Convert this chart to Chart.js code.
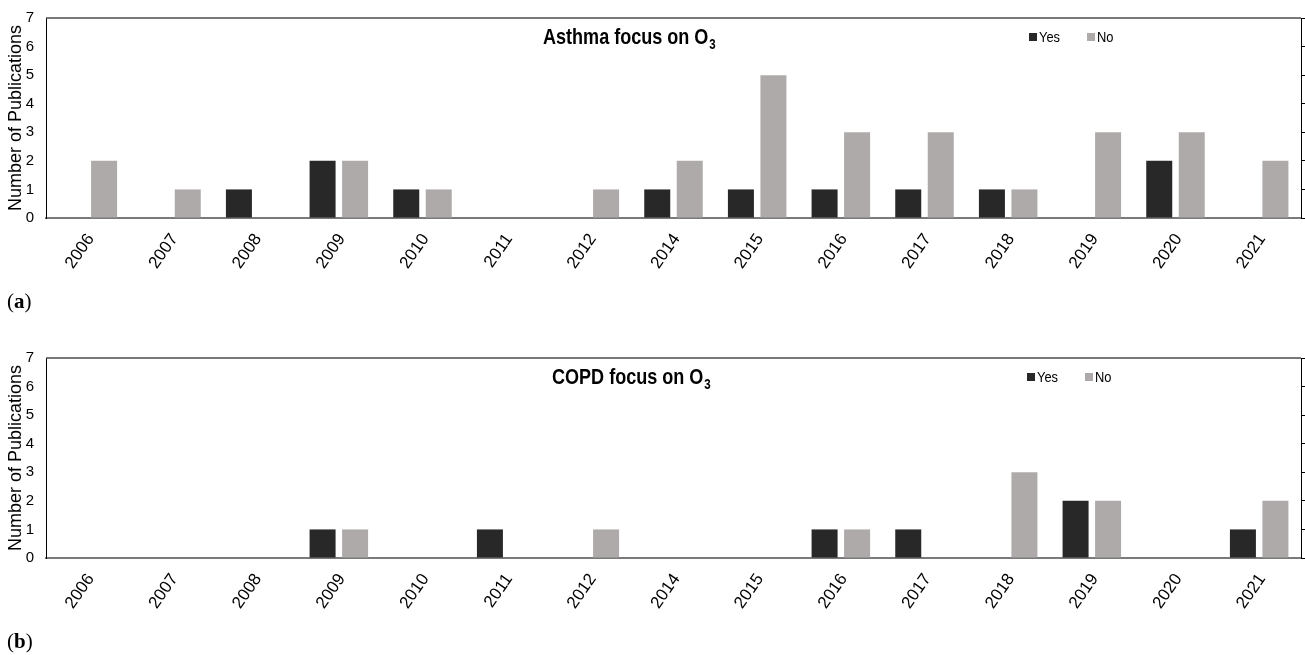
<!DOCTYPE html>
<html>
<head>
<meta charset="utf-8">
<script src="https://cdn.jsdelivr.net/npm/chart.js@4.4.1/dist/chart.umd.min.js"></script>
<style>
  html, body { margin: 0; padding: 0; background: #fff; }
  #wrap { position: relative; width: 1305px; height: 655px; overflow: hidden; background: #fff; }
  #wrap canvas { position: absolute; left: 0; }
  .panel { position: absolute; left: 7px; font-family: "Liberation Serif", "DejaVu Serif", serif; font-size: 21px; color: #000; line-height: 24px; }
</style>
</head>
<body>
<div id="wrap">
  <canvas id="chartA" width="1305" height="300" style="top:0"></canvas>
  <canvas id="chartB" width="1305" height="300" style="top:340px"></canvas>
  <div class="panel" style="top:289px">(<b>a</b>)</div>
  <div class="panel" style="top:629px">(<b>b</b>)</div>
</div>
<script>
// Publication years (no 2013 entry)
const years = ['2006', '2007', '2008', '2009', '2010', '2011', '2012', '2014', '2015', '2016', '2017', '2018', '2019', '2020', '2021'];

// Asthma studies: focus on O3 (Yes) vs not (No)
const asthmaYes = [0, 0, 1, 2, 1, 0, 0, 1, 1, 1, 1, 1, 0, 2, 0];
const asthmaNo  = [2, 1, 0, 2, 1, 0, 1, 2, 5, 3, 3, 1, 3, 3, 2];

// COPD studies: focus on O3 (Yes) vs not (No)
const copdYes = [0, 0, 0, 1, 0, 1, 0, 0, 0, 1, 1, 0, 2, 0, 1];
const copdNo  = [0, 0, 0, 1, 0, 0, 1, 0, 0, 1, 0, 3, 2, 0, 2];

const seriesNames = ['Yes', 'No'];
const yAxisMin = 0;
const yAxisMax = 7;
const yAxisTitle = 'Number of Publications';

const COLOR_YES = '#282828';
const COLOR_NO = '#aeaaaa';
const SANS = '"Liberation Sans", Arial, sans-serif';

// In-plot title with a subscript and a compact legend, drawn on the canvas
const panelDecor = {
  id: 'panelDecor',
  afterDraw(chart, args, opts) {
    const ctx = chart.ctx;
    const area = chart.chartArea;
    ctx.save();

    // top frame line
    ctx.strokeStyle = '#4d4d4d';
    ctx.lineWidth = 1.5;
    ctx.beginPath();
    ctx.moveTo(area.left, area.top);
    ctx.lineTo(area.right, area.top);
    ctx.stroke();

    // title: main text plus subscript, slightly condensed
    ctx.fillStyle = '#000';
    ctx.textBaseline = 'alphabetic';
    ctx.textAlign = 'left';
    ctx.save();
    ctx.translate(opts.titleX, opts.titleY);
    ctx.scale(0.82, 1);
    ctx.font = 'bold 22px ' + SANS;
    ctx.fillText(opts.title, 0, 0);
    const w = ctx.measureText(opts.title).width;
    ctx.font = 'bold 14px ' + SANS;
    ctx.fillText(opts.sub, w + 1, 5);
    ctx.restore();

    // legend
    const ds = chart.data.datasets;
    let x = opts.legendX;
    const y = opts.legendY;
    ds.forEach((d) => {
      ctx.fillStyle = d.backgroundColor;
      ctx.fillRect(x, y - 9, 8, 8);
      ctx.save();
      ctx.translate(x + 10, y);
      ctx.scale(0.86, 1);
      ctx.fillStyle = '#000';
      ctx.font = '15px ' + SANS;
      ctx.fillText(d.label, 0, 0);
      ctx.restore();
      x += opts.legendStep;
    });
    ctx.restore();
  }
};

function buildChart(canvasId, yesValues, noValues, title, titleX, legendX) {
  return new Chart(document.getElementById(canvasId), {
    type: 'bar',
    data: {
      labels: years,
      datasets: [
        { label: seriesNames[0], data: yesValues, backgroundColor: COLOR_YES, borderWidth: 0 },
        { label: seriesNames[1], data: noValues, backgroundColor: COLOR_NO, borderWidth: 0 }
      ]
    },
    options: {
      responsive: false,
      animation: false,
      devicePixelRatio: 1,
      categoryPercentage: 0.777,
      barPercentage: 0.8,
      layout: { padding: { top: 18, left: 0, right: 0, bottom: 0 } },
      plugins: {
        legend: { display: false },
        tooltip: { enabled: false },
        title: { display: false },
        panelDecor: {
          title: title, sub: '3', titleX: titleX, titleY: 44,
          legendX: legendX, legendY: 42, legendStep: 58
        }
      },
      scales: {
        x: {
          grid: { display: false, drawTicks: false },
          border: { display: true, color: '#7a7a7a', width: 2 },
          ticks: {
            autoSkip: false, minRotation: 55, maxRotation: 55, padding: 12, labelOffset: 3,
            color: '#000', font: { family: SANS, size: 17 }
          },
          afterFit(scale) { scale.height = 82; }
        },
        y: {
          min: yAxisMin, max: yAxisMax,
          // invisible tick marks keep the labels clear of the axis line
          grid: { display: true, drawOnChartArea: false, drawTicks: true, tickLength: 9, color: 'rgba(0,0,0,0)' },
          border: { display: true, color: '#000', width: 1 },
          ticks: {
            stepSize: 1, padding: 3, color: '#000',
            font: { family: SANS, size: 15 }
          },
          title: {
            display: true, text: yAxisTitle, color: '#000',
            font: { family: SANS, size: 18 }, padding: { top: 5, bottom: 0 }
          },
          afterFit(scale) { scale.width = 46; }
        },
        y2: {
          position: 'right',
          min: yAxisMin, max: yAxisMax,
          grid: { display: true, drawOnChartArea: false, drawTicks: true, tickLength: 4, color: '#000' },
          border: { display: true, color: '#000', width: 1 },
          ticks: { stepSize: 1, display: false },
          afterFit(scale) { scale.width = 4; }
        }
      }
    },
    plugins: [panelDecor]
  });
}

buildChart('chartA', asthmaYes, asthmaNo, 'Asthma focus on O', 543, 1029);
buildChart('chartB', copdYes, copdNo, 'COPD focus on O', 552, 1027);
</script>
</body>
</html>
